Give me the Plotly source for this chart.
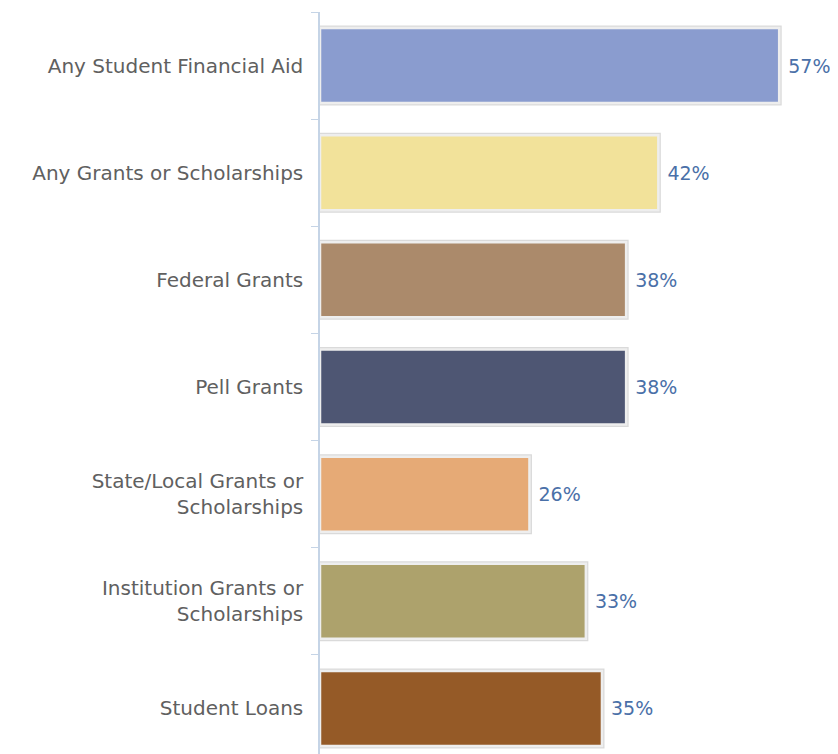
import plotly.graph_objects as go

categories = [
    "Any Student Financial Aid",
    "Any Grants or Scholarships",
    "Federal Grants",
    "Pell Grants",
    "State/Local Grants or<br>Scholarships",
    "Institution Grants or<br>Scholarships",
    "Student Loans",
]
values = [57, 42, 38, 38, 26, 33, 35]
bar_colors = ["#8a9ccf", "#f2e29a", "#ab8a6b", "#4e5673", "#e6aa76", "#ada26c", "#955a27"]

LABEL_INK = "#606060"
VALUE_INK = "#4a70a8"
AXIS_LINE = "#c5d4e6"

fig = go.Figure()

# soft drop shadow behind each bar
fig.add_trace(
    go.Bar(
        x=values,
        y=categories,
        orientation="h",
        marker=dict(color="rgba(0,0,0,0)", line=dict(color="rgba(150,150,150,0.35)", width=5)),
        width=0.7,
        hoverinfo="skip",
        showlegend=False,
    )
)

fig.add_trace(
    go.Bar(
        x=values,
        y=categories,
        orientation="h",
        marker=dict(color=bar_colors, line=dict(color="#eeeeee", width=2.5)),
        width=0.7,
        text=[f" {v}%" for v in values],
        textposition="outside",
        textfont=dict(color=VALUE_INK, size=19, family="DejaVu Sans"),
        cliponaxis=False,
        showlegend=False,
    )
)

fig.update_layout(
    width=838,
    height=754,
    margin=dict(l=312, r=8, t=4, b=0),
    paper_bgcolor="white",
    plot_bgcolor="white",
    font=dict(family="DejaVu Sans", color=LABEL_INK, size=20),
    barmode="overlay",
    xaxis=dict(
        range=[0, 64.3],
        showgrid=False,
        showticklabels=False,
        zeroline=False,
        showline=False,
    ),
    yaxis=dict(
        range=[6.5, -0.5],
        showgrid=False,
        showline=True,
        linecolor=AXIS_LINE,
        linewidth=1.5,
        ticks="outside",
        tickson="boundaries",
        ticklen=7,
        tickcolor=AXIS_LINE,
        tickfont=dict(color=LABEL_INK, size=20, family="DejaVu Sans"),
        ticklabelstandoff=11,
    ),
)

fig.write_html("out.html")
